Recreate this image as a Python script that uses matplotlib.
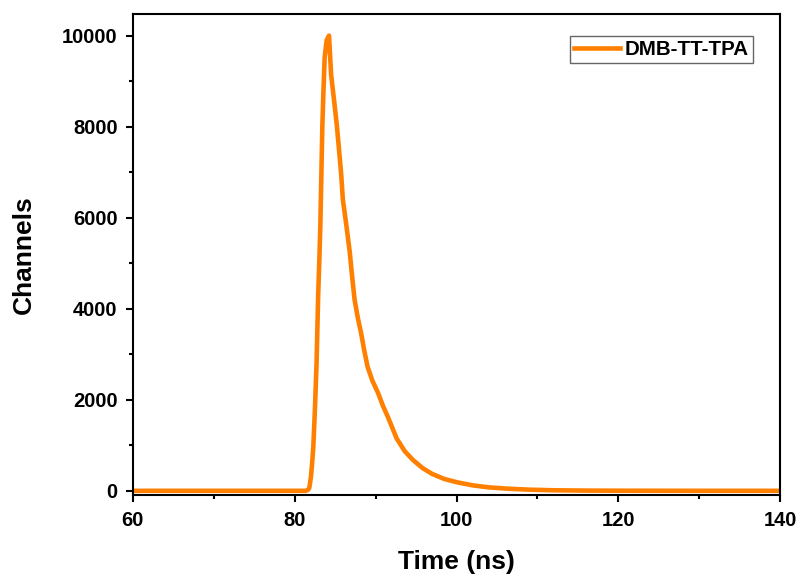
import matplotlib.pyplot as plt
from matplotlib.ticker import MultipleLocator

# Decay trace (time in ns, counts)
time_ns = [60, 70, 80, 81.3, 81.6, 81.8, 82.0, 82.15, 82.3, 82.5, 82.7, 82.9,
           83.05, 83.17, 83.3, 83.42, 83.55, 83.7, 83.95, 84.24, 84.5, 84.85,
           85.2, 85.5, 85.75, 85.95, 86.37, 86.8, 87.1, 87.4, 87.8, 88.2, 88.6,
           89.0, 89.6, 90.3, 90.9, 91.5, 92.6, 93.6, 94.6, 95.8, 97.0, 98.5,
           100.0, 102.0, 104.0, 106.5, 109.0, 112.0, 116.0, 120.0, 130.0, 140.0]
counts = [0, 0, 0, 0, 15, 60, 300, 600, 970, 1800, 2800, 4300,
          5100, 5850, 7000, 8040, 8770, 9520, 9900, 10000, 9140, 8600,
          8040, 7450, 6940, 6400, 5850, 5250, 4700, 4200, 3800, 3470, 3080,
          2730, 2420, 2150, 1870, 1630, 1150, 870, 680, 500, 370, 260,
          190, 120, 75, 45, 25, 12, 5, 2, 0, 0]
label = 'DMB-TT-TPA'

plt.rcParams['font.family'] = ['Liberation Sans', 'DejaVu Sans']
plt.rcParams['font.weight'] = 'bold'

fig = plt.figure(figsize=(7.96, 5.74), dpi=100)
ax = fig.add_axes([0.167, 0.137, 0.813, 0.839])

ax.plot(time_ns, counts, color='#ff8000', linewidth=3.3, label=label)

ax.set_xlim(60, 140)
ax.set_ylim(-100, 10480)
ax.xaxis.set_major_locator(MultipleLocator(20))
ax.xaxis.set_minor_locator(MultipleLocator(10))
ax.yaxis.set_major_locator(MultipleLocator(2000))
ax.yaxis.set_minor_locator(MultipleLocator(1000))

ax.tick_params(which='major', direction='out', length=5, width=1.5,
               labelsize=14.5, pad=6)
ax.tick_params(which='minor', direction='out', length=3, width=1.5)
for side in ax.spines.values():
    side.set_linewidth(1.5)
for t in ax.get_xticklabels() + ax.get_yticklabels():
    t.set_fontweight('bold')

ax.set_xlabel('Time (ns)', fontsize=19, fontweight='bold', labelpad=15)
ax.set_ylabel('Channels', fontsize=19, fontweight='bold', labelpad=19)

leg = ax.legend(loc='upper right', bbox_to_anchor=(0.958, 0.954), fontsize=14.8,
                fancybox=False, framealpha=1, edgecolor='#666666',
                handlelength=2.2, borderpad=0.2, handletextpad=0.25,
                borderaxespad=0)
leg.get_frame().set_linewidth(1.0)
for t in leg.get_texts():
    t.set_fontweight('bold')

fig.savefig('out.png', dpi=100)
